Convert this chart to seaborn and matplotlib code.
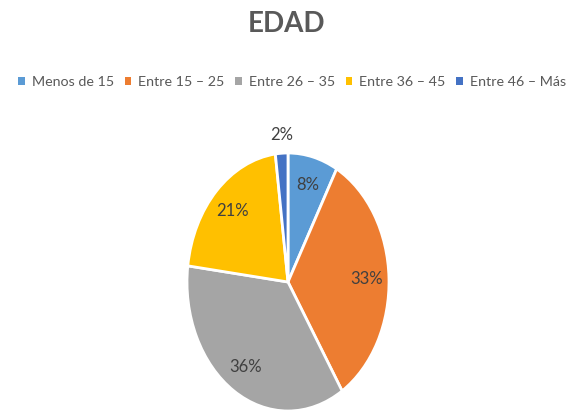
import matplotlib
matplotlib.use("Agg")
import matplotlib.pyplot as plt
import seaborn as sns
from matplotlib.patches import Patch

categories = ["Menos de 15", "Entre 15 – 25", "Entre 26 – 35", "Entre 36 – 45", "Entre 46 – Más"]
values = [8, 33, 36, 21, 2]
colors = ["#5B9BD5", "#ED7D31", "#A5A5A5", "#FFC000", "#4472C4"]
title = "EDAD"

sns.set_theme(style="white")
plt.rcParams['font.family'] = ['Lato', 'DejaVu Sans']

fig = plt.figure(figsize=(5.73, 4.12), dpi=100)
ax = fig.add_axes([187/573, 1 - 411/412, 202/573, (411 - 153)/412])

wedges, texts, autotexts = ax.pie(
    values, colors=colors, startangle=90, counterclock=False,
    autopct=lambda p: f"{p:.0f}%", pctdistance=0.78,
    wedgeprops=dict(edgecolor="white", linewidth=2),
    textprops=dict(color="#404040", fontsize=12),
)
ax.set_aspect('auto')
ax.set_xlim(-1, 1)
ax.set_ylim(-1, 1)
# small slice label outside
autotexts[4].set_position((-0.06, 1.14))

fig.text(0.5, 1 - 24/412, title, ha="center", va="center",
         fontsize=20, fontweight="bold", color="#595959")

handles = [Patch(facecolor=c, edgecolor="none") for c in colors]
leg = fig.legend(handles, categories, loc="center", bbox_to_anchor=(292/573, 1 - 82/412),
                 ncol=5, frameon=False, fontsize=10.3, handlelength=0.45, handleheight=0.45,
                 handletextpad=0.5, columnspacing=0.75, labelcolor="#595959",
                 borderpad=0, borderaxespad=0)

fig.savefig("out.png", dpi=100, facecolor="white")
